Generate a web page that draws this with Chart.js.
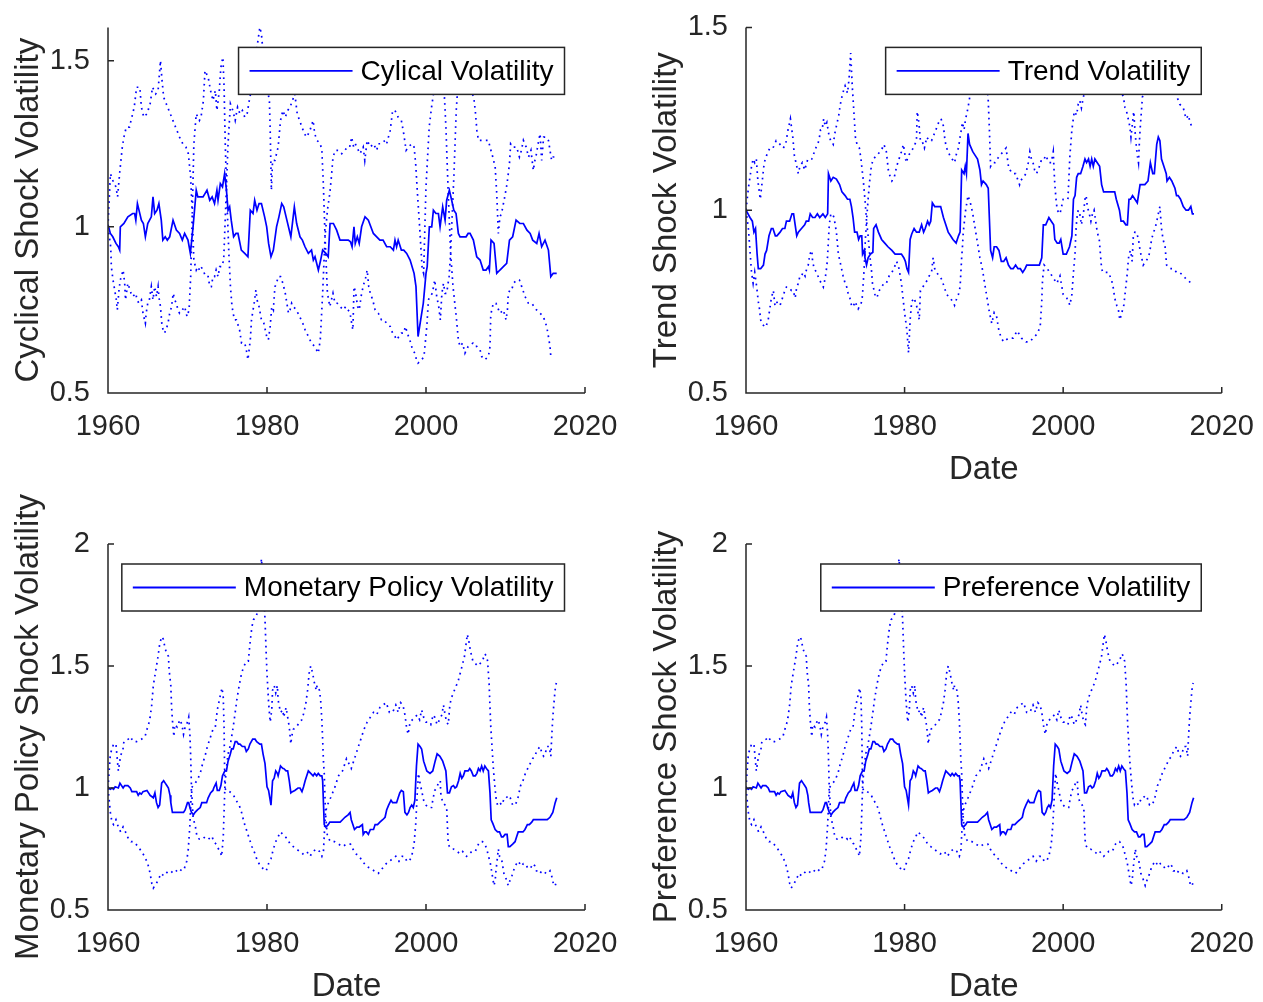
<!DOCTYPE html>
<html>
<head>
<meta charset="utf-8">
<script src="https://cdn.jsdelivr.net/npm/chart.js@4.4.1/dist/chart.umd.min.js"></script>
<style>
  body { margin: 0; background: #fff; }
  canvas { position: absolute; left: 0; top: 0; }
</style>
</head>
<body>
<canvas id="cyclical" width="1263" height="1002"></canvas>
<canvas id="trend" width="1263" height="1002"></canvas>
<canvas id="monetary" width="1263" height="1002"></canvas>
<canvas id="preference" width="1263" height="1002"></canvas>
<script>
// tick values shared by the panels
const xTicks = [1960, 1980, 2000, 2020];
const yTicksSmall = [0.5, 1, 1.5];
const yTicksLarge = [0.5, 1, 1.5, 2];

// ---- cyclical shock volatility: [year, value] ----
const cyclicalMid = [[1960.0,1.006],[1960.3,0.98],[1960.6,0.97],[1961.0,0.95],[1961.3,0.94],[1961.47,0.93],[1961.55,1.0],[1962.0,1.01],[1962.5,1.03],[1963.1,1.04],[1963.35,1.04],[1963.5,1.02],[1963.7,1.07],[1964.2,1.02],[1964.45,1.01],[1964.7,0.97],[1965.0,1.01],[1965.45,1.03],[1965.66,1.09],[1965.87,1.04],[1966.16,1.05],[1966.4,1.07],[1966.7,1.02],[1966.9,0.96],[1967.2,0.97],[1967.46,0.96],[1967.76,0.97],[1968.18,1.02],[1968.6,0.99],[1969.0,0.98],[1969.35,0.96],[1969.64,0.98],[1970.06,0.96],[1970.36,0.92],[1970.7,1.0],[1971.1,1.11],[1971.3,1.09],[1971.95,1.09],[1972.2,1.1],[1972.45,1.11],[1972.8,1.08],[1973.1,1.09],[1973.4,1.07],[1973.7,1.11],[1973.84,1.08],[1974.13,1.13],[1974.4,1.12],[1974.67,1.16],[1974.9,1.11],[1975.1,1.05],[1975.3,1.06],[1975.5,1.02],[1975.8,0.97],[1976.1,0.98],[1976.35,0.98],[1976.77,0.93],[1977.2,0.92],[1977.6,0.91],[1977.9,1.05],[1978.24,1.04],[1978.45,1.08],[1978.74,1.05],[1979.0,1.07],[1979.3,1.07],[1979.7,1.03],[1979.96,1.0],[1980.2,0.95],[1980.5,0.91],[1980.8,0.93],[1981.2,1.0],[1981.5,1.03],[1981.85,1.07],[1982.1,1.06],[1982.5,1.02],[1983.0,0.97],[1983.44,1.06],[1983.73,1.01],[1984.15,0.97],[1984.45,0.96],[1984.78,0.94],[1985.2,0.92],[1985.6,0.93],[1985.83,0.9],[1986.04,0.91],[1986.46,0.87],[1986.75,0.9],[1987.0,0.93],[1987.4,0.92],[1987.7,0.91],[1987.93,1.01],[1988.35,1.01],[1988.76,0.99],[1989.18,0.96],[1989.7,0.96],[1990.23,0.96],[1990.5,0.955],[1990.7,0.94],[1990.94,1.0],[1991.1,0.95],[1991.36,0.97],[1991.6,0.95],[1991.9,1.0],[1992.33,1.03],[1992.75,1.02],[1993.38,0.98],[1993.8,0.97],[1994.2,0.96],[1994.6,0.96],[1995.05,0.94],[1995.5,0.94],[1995.9,0.93],[1996.1,0.96],[1996.3,0.94],[1996.5,0.96],[1996.9,0.93],[1997.2,0.93],[1997.57,0.92],[1998.0,0.9],[1998.5,0.86],[1998.74,0.82],[1999.0,0.67],[1999.33,0.72],[1999.66,0.77],[2000.0,0.86],[2000.15,0.88],[2000.42,1.0],[2000.72,1.0],[2000.93,1.05],[2001.25,1.04],[2001.56,1.04],[2001.77,1.0],[2002.1,1.06],[2002.4,1.02],[2002.6,1.08],[2002.94,1.11],[2003.23,1.08],[2003.5,1.05],[2003.78,1.04],[2004.07,0.98],[2004.28,0.97],[2004.7,0.97],[2005.04,0.97],[2005.3,0.98],[2005.54,0.98],[2005.96,0.96],[2006.38,0.91],[2006.8,0.9],[2007.2,0.87],[2007.55,0.87],[2007.85,0.88],[2007.97,0.87],[2008.18,0.96],[2008.56,0.95],[2008.9,0.86],[2009.3,0.87],[2009.73,0.88],[2010.15,0.89],[2010.5,0.96],[2010.9,0.97],[2011.33,1.02],[2011.8,1.01],[2012.25,1.01],[2012.7,0.99],[2013.1,0.98],[2013.42,0.96],[2013.93,0.95],[2014.22,0.98],[2014.55,0.94],[2014.97,0.96],[2015.4,0.93],[2015.7,0.85],[2016.0,0.86],[2016.44,0.86]];
const cyclicalUpper = [[1960.0,1.0],[1960.3,1.16],[1960.6,1.14],[1961.0,1.12],[1961.2,1.09],[1961.5,1.17],[1961.8,1.24],[1962.0,1.27],[1962.3,1.3],[1962.7,1.3],[1963.0,1.33],[1963.3,1.36],[1963.6,1.42],[1964.0,1.42],[1964.2,1.36],[1964.5,1.33],[1964.9,1.34],[1965.3,1.37],[1965.6,1.42],[1966.0,1.4],[1966.3,1.41],[1966.6,1.5],[1966.8,1.44],[1967.0,1.39],[1967.5,1.36],[1968.0,1.33],[1968.5,1.3],[1969.0,1.27],[1969.4,1.25],[1969.8,1.24],[1970.1,1.22],[1970.4,1.15],[1970.6,1.04],[1970.8,1.25],[1971.0,1.31],[1971.1,1.34],[1971.5,1.32],[1971.7,1.33],[1972.0,1.38],[1972.2,1.47],[1972.6,1.45],[1972.9,1.41],[1973.2,1.38],[1973.5,1.41],[1973.7,1.35],[1974.0,1.41],[1974.2,1.48],[1974.45,1.51],[1974.6,1.42],[1974.75,1.25],[1974.9,1.12],[1975.1,1.25],[1975.4,1.37],[1975.7,1.35],[1976.0,1.32],[1976.3,1.36],[1976.6,1.34],[1976.9,1.35],[1977.2,1.33],[1977.5,1.34],[1977.7,1.37],[1978.3,1.45],[1978.8,1.55],[1979.1,1.6],[1979.3,1.58],[1979.6,1.5],[1980.0,1.42],[1980.3,1.38],[1980.4,1.29],[1980.55,1.11],[1980.7,1.2],[1981.0,1.2],[1981.4,1.24],[1981.7,1.32],[1982.0,1.35],[1982.3,1.33],[1982.6,1.35],[1982.9,1.36],[1983.2,1.38],[1983.5,1.4],[1983.8,1.34],[1984.1,1.32],[1984.4,1.3],[1984.7,1.28],[1985.0,1.27],[1985.4,1.29],[1985.8,1.32],[1986.0,1.28],[1986.3,1.26],[1986.7,1.25],[1986.9,1.23],[1987.1,1.12],[1987.3,0.97],[1987.6,1.05],[1987.9,1.1],[1988.1,1.15],[1988.3,1.21],[1988.6,1.23],[1989.0,1.23],[1989.4,1.22],[1989.8,1.23],[1990.1,1.24],[1990.4,1.24],[1990.65,1.27],[1990.9,1.24],[1991.1,1.25],[1991.5,1.23],[1991.7,1.22],[1992.1,1.24],[1992.3,1.2],[1992.6,1.26],[1993.0,1.24],[1993.4,1.25],[1993.8,1.23],[1994.0,1.25],[1994.4,1.25],[1994.85,1.26],[1995.05,1.25],[1995.5,1.29],[1995.8,1.35],[1996.1,1.35],[1996.5,1.33],[1996.9,1.32],[1997.2,1.28],[1997.5,1.23],[1997.8,1.24],[1998.2,1.25],[1998.5,1.24],[1998.7,1.19],[1998.9,1.11],[1999.2,1.0],[1999.5,0.88],[1999.7,0.86],[2000.0,1.12],[2000.4,1.3],[2000.7,1.36],[2001.0,1.41],[2001.4,1.45],[2002.0,1.46],[2002.2,1.45],[2002.5,1.3],[2002.8,1.1],[2003.1,0.92],[2003.5,1.15],[2003.8,1.35],[2004.0,1.42],[2004.5,1.45],[2005.0,1.44],[2005.5,1.42],[2006.0,1.39],[2006.2,1.35],[2006.4,1.29],[2006.6,1.26],[2007.0,1.26],[2007.4,1.26],[2007.85,1.26],[2008.05,1.24],[2008.4,1.21],[2008.7,1.18],[2008.9,1.1],[2009.1,0.98],[2009.3,1.03],[2009.5,1.04],[2009.9,1.09],[2010.2,1.13],[2010.5,1.19],[2010.65,1.25],[2011.0,1.24],[2011.4,1.24],[2011.75,1.21],[2012.0,1.23],[2012.25,1.26],[2012.6,1.24],[2012.9,1.21],[2013.2,1.23],[2013.5,1.17],[2013.7,1.2],[2013.9,1.22],[2014.1,1.25],[2014.35,1.28],[2014.55,1.2],[2014.8,1.27],[2015.1,1.27],[2015.4,1.26],[2015.6,1.23],[2015.8,1.2],[2016.0,1.21],[2016.4,1.21]];
const cyclicalLower = [[1960.0,1.0],[1960.34,0.94],[1960.42,0.88],[1960.63,0.84],[1960.84,0.81],[1961.05,0.78],[1961.17,0.75],[1961.38,0.81],[1961.55,0.84],[1961.9,0.87],[1962.1,0.83],[1962.2,0.78],[1962.5,0.83],[1962.9,0.8],[1963.1,0.79],[1963.5,0.8],[1963.65,0.78],[1963.9,0.77],[1964.2,0.78],[1964.4,0.74],[1964.7,0.71],[1964.8,0.74],[1965.0,0.77],[1965.2,0.78],[1965.45,0.82],[1965.66,0.78],[1965.87,0.82],[1966.1,0.79],[1966.3,0.82],[1966.4,0.79],[1966.6,0.76],[1966.7,0.73],[1966.8,0.7],[1967.1,0.68],[1967.3,0.69],[1967.55,0.71],[1967.76,0.74],[1968.0,0.76],[1968.2,0.8],[1968.4,0.78],[1968.6,0.77],[1968.8,0.75],[1969.0,0.74],[1969.35,0.75],[1969.64,0.76],[1969.94,0.73],[1970.2,0.75],[1970.4,0.85],[1970.6,1.04],[1970.8,0.9],[1971.1,0.87],[1971.3,0.88],[1971.5,0.87],[1971.7,0.88],[1971.95,0.87],[1972.3,0.85],[1972.6,0.85],[1972.8,0.82],[1973.0,0.82],[1973.2,0.85],[1973.4,0.85],[1973.6,0.87],[1973.84,0.85],[1974.05,0.88],[1974.3,0.88],[1974.55,0.9],[1974.9,1.12],[1975.2,0.92],[1975.4,0.82],[1975.6,0.76],[1975.9,0.72],[1976.15,0.72],[1976.55,0.69],[1976.8,0.65],[1977.2,0.65],[1977.4,0.63],[1977.6,0.6],[1977.75,0.63],[1977.9,0.66],[1978.05,0.72],[1978.25,0.75],[1978.45,0.78],[1978.6,0.81],[1978.75,0.78],[1979.0,0.76],[1979.3,0.72],[1979.6,0.71],[1979.96,0.67],[1980.17,0.66],[1980.4,0.7],[1980.6,0.76],[1980.8,0.75],[1981.0,0.82],[1981.2,0.83],[1981.4,0.85],[1981.7,0.85],[1982.0,0.83],[1982.3,0.8],[1982.5,0.77],[1982.7,0.74],[1982.9,0.75],[1983.1,0.77],[1983.3,0.76],[1983.7,0.75],[1984.1,0.73],[1984.5,0.71],[1984.8,0.69],[1985.2,0.67],[1985.6,0.65],[1986.0,0.64],[1986.45,0.62],[1986.7,0.66],[1987.0,0.8],[1987.3,0.97],[1987.6,0.8],[1987.9,0.76],[1988.3,0.8],[1988.55,0.77],[1988.85,0.77],[1989.2,0.76],[1989.6,0.75],[1989.9,0.76],[1990.2,0.75],[1990.45,0.74],[1990.65,0.71],[1990.8,0.69],[1990.95,0.82],[1991.15,0.8],[1991.4,0.76],[1991.6,0.75],[1991.9,0.8],[1992.2,0.83],[1992.45,0.85],[1992.6,0.87],[1992.8,0.82],[1993.0,0.8],[1993.3,0.78],[1993.6,0.75],[1994.0,0.74],[1994.4,0.72],[1994.7,0.72],[1995.05,0.71],[1995.5,0.7],[1995.8,0.68],[1996.1,0.67],[1996.3,0.66],[1996.6,0.67],[1996.9,0.68],[1997.2,0.68],[1997.4,0.7],[1997.8,0.67],[1998.1,0.65],[1998.3,0.63],[1998.6,0.62],[1998.8,0.6],[1999.0,0.59],[1999.45,0.6],[1999.75,0.61],[2000.1,0.7],[2000.3,0.78],[2000.5,0.79],[2000.8,0.8],[2001.1,0.84],[2001.35,0.79],[2001.6,0.76],[2001.8,0.72],[2002.0,0.8],[2002.2,0.83],[2002.4,0.8],[2002.6,0.8],[2002.9,0.85],[2003.1,0.92],[2003.4,0.82],[2003.8,0.73],[2004.07,0.66],[2004.28,0.64],[2004.6,0.65],[2004.9,0.62],[2005.3,0.64],[2005.9,0.65],[2006.17,0.64],[2006.38,0.64],[2006.8,0.63],[2007.0,0.61],[2007.4,0.6],[2007.85,0.61],[2008.05,0.64],[2008.14,0.73],[2008.26,0.75],[2008.47,0.77],[2008.8,0.77],[2009.3,0.74],[2009.73,0.75],[2010.07,0.72],[2010.24,0.75],[2010.36,0.8],[2010.57,0.81],[2010.78,0.81],[2011.0,0.83],[2011.4,0.84],[2011.75,0.84],[2012.04,0.82],[2012.46,0.79],[2012.88,0.77],[2013.3,0.77],[2013.9,0.75],[2014.35,0.74],[2014.76,0.73],[2015.18,0.7],[2015.4,0.67],[2015.6,0.64],[2015.7,0.61]];

// ---- trend shock volatility ----
const trendMid = [[1960.0,1.0],[1960.5,0.98],[1960.8,0.97],[1961.0,0.94],[1961.2,0.95],[1961.4,0.88],[1961.55,0.84],[1961.85,0.84],[1962.2,0.85],[1962.4,0.88],[1962.6,0.89],[1962.9,0.93],[1963.2,0.95],[1963.4,0.95],[1963.7,0.93],[1963.9,0.93],[1964.3,0.94],[1964.6,0.95],[1964.9,0.95],[1965.1,0.97],[1965.5,0.97],[1965.8,0.99],[1966.0,0.99],[1966.2,0.96],[1966.4,0.93],[1966.6,0.94],[1967.0,0.95],[1967.4,0.96],[1967.6,0.97],[1967.9,0.97],[1968.1,0.99],[1968.4,0.98],[1968.7,0.98],[1969.0,0.99],[1969.3,0.98],[1969.7,0.99],[1970.0,0.98],[1970.3,0.99],[1970.4,1.1],[1970.7,1.08],[1971.0,1.09],[1971.4,1.085],[1971.8,1.07],[1972.1,1.05],[1972.5,1.04],[1972.8,1.03],[1973.1,1.03],[1973.3,1.01],[1973.5,0.98],[1973.7,0.94],[1974.0,0.94],[1974.2,0.92],[1974.4,0.93],[1974.6,0.93],[1974.7,0.88],[1974.9,0.89],[1975.0,0.87],[1975.2,0.85],[1975.4,0.87],[1975.7,0.88],[1976.0,0.885],[1976.1,0.95],[1976.4,0.96],[1976.7,0.94],[1977.1,0.92],[1977.5,0.91],[1977.9,0.9],[1978.4,0.89],[1978.8,0.88],[1979.2,0.88],[1979.6,0.88],[1979.9,0.87],[1980.1,0.86],[1980.3,0.84],[1980.5,0.83],[1980.7,0.92],[1980.9,0.935],[1981.2,0.95],[1981.5,0.94],[1981.85,0.94],[1982.15,0.96],[1982.4,0.94],[1982.6,0.95],[1982.9,0.97],[1983.1,0.96],[1983.3,0.97],[1983.5,1.02],[1983.8,1.01],[1984.25,1.01],[1984.55,1.01],[1984.9,0.98],[1985.2,0.96],[1985.5,0.94],[1985.8,0.93],[1986.1,0.92],[1986.5,0.91],[1986.8,0.93],[1987.0,0.94],[1987.2,1.11],[1987.5,1.1],[1987.65,1.12],[1987.8,1.1],[1988.0,1.21],[1988.2,1.18],[1988.6,1.16],[1988.9,1.15],[1989.2,1.14],[1989.5,1.11],[1989.7,1.07],[1989.9,1.08],[1990.3,1.07],[1990.55,1.06],[1990.85,0.89],[1991.1,0.87],[1991.3,0.9],[1991.6,0.9],[1991.9,0.89],[1992.2,0.86],[1992.5,0.86],[1992.8,0.87],[1993.1,0.85],[1993.4,0.84],[1993.7,0.84],[1994.0,0.85],[1994.3,0.84],[1994.6,0.84],[1994.9,0.83],[1995.2,0.84],[1995.4,0.85],[1995.8,0.85],[1996.2,0.85],[1996.65,0.85],[1997.0,0.85],[1997.3,0.87],[1997.5,0.96],[1997.8,0.96],[1998.2,0.98],[1998.5,0.97],[1998.8,0.96],[1998.95,0.92],[1999.25,0.91],[1999.5,0.91],[1999.7,0.92],[2000.0,0.88],[2000.4,0.88],[2000.8,0.9],[2001.1,0.93],[2001.3,1.03],[2001.5,1.04],[2001.7,1.09],[2001.9,1.1],[2002.2,1.1],[2002.5,1.12],[2002.75,1.14],[2002.95,1.13],[2003.2,1.14],[2003.4,1.12],[2003.6,1.14],[2003.8,1.12],[2004.0,1.14],[2004.3,1.13],[2004.6,1.12],[2004.85,1.07],[2005.1,1.05],[2005.5,1.05],[2005.9,1.05],[2006.3,1.05],[2006.5,1.05],[2006.7,1.03],[2007.1,1.0],[2007.3,0.97],[2007.6,0.97],[2007.9,0.96],[2008.1,0.96],[2008.3,1.03],[2008.5,1.03],[2008.75,1.04],[2009.05,1.03],[2009.35,1.02],[2009.7,1.07],[2010.0,1.07],[2010.3,1.07],[2010.7,1.08],[2011.0,1.13],[2011.3,1.1],[2011.5,1.1],[2011.8,1.18],[2012.0,1.2],[2012.2,1.19],[2012.4,1.14],[2012.7,1.12],[2013.0,1.1],[2013.1,1.08],[2013.4,1.09],[2013.7,1.08],[2013.9,1.07],[2014.1,1.06],[2014.3,1.04],[2014.5,1.04],[2014.8,1.03],[2015.15,1.01],[2015.5,1.0],[2015.8,1.0],[2016.1,1.01],[2016.3,0.99],[2016.5,0.99]];
const trendUpper = [[1960.0,1.0],[1960.3,1.06],[1960.5,1.09],[1960.7,1.12],[1960.9,1.14],[1961.1,1.13],[1961.3,1.14],[1961.5,1.08],[1961.8,1.03],[1962.1,1.09],[1962.3,1.13],[1962.6,1.15],[1963.0,1.17],[1963.4,1.17],[1963.8,1.19],[1964.3,1.18],[1964.7,1.17],[1965.0,1.18],[1965.3,1.22],[1965.6,1.25],[1965.9,1.2],[1966.1,1.15],[1966.4,1.12],[1966.6,1.1],[1966.8,1.12],[1967.1,1.13],[1967.4,1.11],[1967.8,1.14],[1968.3,1.14],[1968.8,1.17],[1969.2,1.19],[1969.4,1.22],[1969.6,1.22],[1969.8,1.25],[1970.0,1.23],[1970.2,1.24],[1970.5,1.2],[1970.7,1.19],[1971.0,1.18],[1971.2,1.21],[1971.5,1.24],[1971.7,1.26],[1971.9,1.29],[1972.2,1.32],[1972.5,1.34],[1972.8,1.32],[1973.0,1.36],[1973.2,1.43],[1973.4,1.34],[1973.6,1.27],[1973.8,1.2],[1974.0,1.18],[1974.3,1.17],[1974.5,1.14],[1974.8,1.08],[1975.0,1.03],[1975.2,0.97],[1975.4,1.03],[1975.6,1.08],[1975.8,1.12],[1976.05,1.14],[1976.5,1.15],[1976.9,1.16],[1977.2,1.17],[1977.4,1.18],[1977.7,1.16],[1977.95,1.11],[1978.2,1.09],[1978.4,1.08],[1978.7,1.09],[1979.0,1.12],[1979.3,1.14],[1979.6,1.16],[1979.85,1.18],[1980.2,1.13],[1980.5,1.15],[1980.8,1.16],[1981.1,1.17],[1981.3,1.18],[1981.5,1.19],[1981.6,1.27],[1981.8,1.24],[1982.0,1.19],[1982.2,1.19],[1982.5,1.17],[1982.8,1.2],[1983.1,1.19],[1983.4,1.19],[1983.95,1.22],[1984.3,1.24],[1984.6,1.25],[1984.9,1.23],[1985.1,1.19],[1985.3,1.17],[1985.7,1.15],[1986.0,1.14],[1986.3,1.13],[1986.6,1.16],[1986.8,1.17],[1987.0,1.2],[1987.3,1.24],[1987.5,1.22],[1987.7,1.25],[1988.0,1.28],[1988.3,1.32],[1988.6,1.37],[1989.0,1.41],[1989.5,1.43],[1990.0,1.41],[1990.3,1.37],[1990.55,1.3],[1990.7,1.22],[1990.85,1.12],[1991.1,1.13],[1991.4,1.13],[1991.7,1.14],[1992.0,1.15],[1992.45,1.16],[1992.8,1.17],[1993.1,1.12],[1993.3,1.11],[1993.6,1.1],[1994.0,1.1],[1994.5,1.07],[1994.6,1.08],[1995.0,1.09],[1995.3,1.1],[1995.6,1.13],[1995.8,1.16],[1996.0,1.14],[1996.2,1.13],[1996.4,1.11],[1996.65,1.1],[1997.0,1.12],[1997.3,1.14],[1997.6,1.14],[1997.8,1.15],[1998.0,1.14],[1998.2,1.13],[1998.5,1.13],[1998.75,1.16],[1998.85,1.11],[1998.95,1.07],[1999.1,1.03],[1999.25,1.0],[1999.6,0.99],[2000.0,1.03],[2000.4,1.03],[2000.6,1.03],[2000.85,1.15],[2001.1,1.22],[2001.4,1.27],[2001.7,1.26],[2001.9,1.29],[2002.1,1.3],[2002.3,1.28],[2002.55,1.31],[2003.0,1.34],[2004.0,1.36],[2005.0,1.37],[2006.0,1.36],[2007.0,1.34],[2007.6,1.31],[2007.8,1.28],[2008.0,1.27],[2008.2,1.25],[2008.4,1.23],[2008.55,1.2],[2008.75,1.24],[2008.9,1.27],[2009.05,1.22],[2009.2,1.18],[2009.35,1.15],[2009.5,1.13],[2009.6,1.18],[2009.7,1.22],[2009.9,1.28],[2010.0,1.31],[2011.0,1.34],[2012.0,1.36],[2013.0,1.35],[2014.0,1.33],[2014.7,1.29],[2015.15,1.28],[2015.5,1.25],[2015.8,1.26],[2016.0,1.24],[2016.2,1.23],[2016.4,1.23]];
const trendLower = [[1960.0,1.0],[1960.3,0.95],[1960.4,0.92],[1960.5,0.89],[1960.6,0.86],[1960.7,0.83],[1960.9,0.8],[1961.1,0.83],[1961.35,0.79],[1961.55,0.75],[1961.7,0.73],[1961.85,0.7],[1962.0,0.69],[1962.2,0.685],[1962.5,0.68],[1962.8,0.7],[1963.0,0.73],[1963.2,0.76],[1963.45,0.78],[1963.65,0.74],[1963.85,0.75],[1964.1,0.74],[1964.3,0.74],[1964.6,0.76],[1964.9,0.78],[1965.1,0.79],[1965.3,0.79],[1965.75,0.78],[1965.95,0.78],[1966.2,0.76],[1966.4,0.79],[1966.6,0.8],[1966.8,0.82],[1967.0,0.82],[1967.2,0.83],[1967.45,0.82],[1967.65,0.84],[1967.85,0.85],[1968.05,0.88],[1968.3,0.89],[1968.4,0.86],[1968.6,0.84],[1968.9,0.83],[1969.25,0.81],[1969.5,0.8],[1969.75,0.79],[1969.95,0.81],[1970.1,0.83],[1970.25,0.86],[1970.4,0.92],[1970.5,0.96],[1970.7,0.99],[1970.9,0.99],[1971.1,0.98],[1971.25,0.96],[1971.4,0.94],[1971.65,0.88],[1971.85,0.86],[1972.05,0.84],[1972.25,0.82],[1972.5,0.8],[1972.7,0.79],[1972.9,0.77],[1973.1,0.76],[1973.3,0.74],[1973.5,0.735],[1973.75,0.75],[1973.95,0.74],[1974.15,0.73],[1974.4,0.74],[1974.6,0.75],[1974.7,0.77],[1974.9,0.84],[1975.05,0.92],[1975.2,0.97],[1975.4,0.93],[1975.6,0.88],[1975.85,0.83],[1975.95,0.8],[1976.25,0.77],[1976.5,0.76],[1976.8,0.78],[1977.1,0.79],[1977.4,0.8],[1977.7,0.8],[1978.05,0.82],[1978.4,0.83],[1978.65,0.84],[1979.0,0.86],[1979.3,0.84],[1979.6,0.8],[1980.0,0.72],[1980.3,0.67],[1980.5,0.61],[1980.7,0.7],[1980.9,0.75],[1981.2,0.76],[1981.5,0.74],[1981.7,0.72],[1981.85,0.7],[1982.0,0.78],[1982.3,0.79],[1982.6,0.8],[1982.9,0.81],[1983.1,0.82],[1983.4,0.83],[1983.6,0.87],[1983.8,0.84],[1984.0,0.83],[1984.4,0.82],[1984.7,0.81],[1985.0,0.79],[1985.3,0.77],[1985.7,0.76],[1986.1,0.75],[1986.3,0.74],[1986.6,0.76],[1986.8,0.77],[1987.0,0.79],[1987.1,0.83],[1987.2,0.87],[1987.3,0.9],[1987.4,0.94],[1987.7,1.0],[1988.0,1.04],[1988.3,1.02],[1988.6,0.99],[1988.9,0.95],[1989.2,0.91],[1989.5,0.87],[1989.8,0.84],[1990.1,0.8],[1990.4,0.76],[1990.7,0.72],[1991.0,0.69],[1991.3,0.72],[1991.6,0.71],[1991.9,0.67],[1992.2,0.65],[1992.5,0.64],[1993.1,0.65],[1993.7,0.65],[1994.2,0.67],[1994.75,0.65],[1995.3,0.64],[1995.8,0.64],[1996.2,0.65],[1996.65,0.66],[1997.1,0.68],[1997.3,0.75],[1997.4,0.81],[1997.6,0.85],[1998.0,0.84],[1998.3,0.83],[1998.6,0.82],[1998.9,0.81],[1999.2,0.8],[1999.6,0.82],[2000.0,0.77],[2000.45,0.76],[2000.85,0.74],[2001.1,0.77],[2001.3,0.83],[2001.5,0.88],[2001.6,0.94],[2001.7,0.97],[2001.8,0.99],[2001.9,1.0],[2002.1,0.99],[2002.3,0.96],[2002.55,0.99],[2002.75,1.03],[2002.9,1.04],[2003.05,1.01],[2003.3,0.99],[2003.5,0.97],[2003.7,0.99],[2003.9,1.0],[2004.1,0.97],[2004.3,0.94],[2004.55,0.92],[2004.7,0.88],[2004.85,0.84],[2005.0,0.83],[2005.3,0.83],[2005.7,0.83],[2006.1,0.81],[2006.3,0.79],[2006.5,0.76],[2006.75,0.74],[2006.95,0.73],[2007.15,0.7],[2007.4,0.72],[2007.65,0.74],[2007.9,0.79],[2008.1,0.83],[2008.2,0.86],[2008.3,0.88],[2008.5,0.89],[2008.7,0.86],[2008.85,0.93],[2009.05,0.94],[2009.25,0.94],[2009.5,0.92],[2009.7,0.89],[2010.1,0.85],[2010.4,0.86],[2010.75,0.87],[2010.95,0.89],[2011.15,0.92],[2011.4,0.94],[2011.6,0.95],[2011.8,0.97],[2012.0,0.99],[2012.2,1.01],[2012.4,0.95],[2012.6,0.92],[2012.85,0.9],[2013.05,0.85],[2013.5,0.84],[2013.9,0.84],[2014.3,0.83],[2014.7,0.83],[2015.15,0.82],[2015.6,0.81],[2016.2,0.8],[2016.4,0.8]];

// ---- monetary policy shock volatility (the preference panel shows the same series) ----
const monetaryMid = [[1960.0,1.0],[1960.3,0.995],[1960.5,1.0],[1960.7,0.995],[1960.9,1.005],[1961.3,1.0],[1961.5,1.02],[1961.9,1.0],[1962.1,1.01],[1962.5,1.01],[1962.8,1.0],[1963.0,0.985],[1963.6,0.985],[1963.8,0.97],[1964.0,0.98],[1964.2,0.975],[1964.4,0.985],[1964.9,0.99],[1965.1,0.98],[1965.3,0.97],[1965.5,0.965],[1965.7,0.96],[1965.9,0.98],[1966.1,0.94],[1966.3,0.92],[1966.5,0.93],[1966.75,1.02],[1967.0,1.03],[1967.2,1.02],[1967.4,1.01],[1967.6,1.0],[1967.8,0.97],[1967.9,0.94],[1968.1,0.9],[1968.4,0.9],[1968.7,0.9],[1969.05,0.9],[1969.3,0.9],[1969.5,0.9],[1969.7,0.91],[1970.0,0.94],[1970.15,0.94],[1970.3,0.92],[1970.5,0.9],[1970.75,0.89],[1970.95,0.9],[1971.25,0.91],[1971.6,0.92],[1971.8,0.94],[1972.1,0.94],[1972.4,0.94],[1972.6,0.96],[1972.9,0.98],[1973.2,0.99],[1973.3,1.0],[1973.6,1.02],[1973.75,0.99],[1974.0,0.99],[1974.2,1.01],[1974.4,1.05],[1974.7,1.07],[1974.9,1.07],[1975.1,1.11],[1975.35,1.135],[1975.55,1.16],[1975.75,1.16],[1976.0,1.19],[1976.2,1.19],[1976.4,1.18],[1976.6,1.18],[1976.9,1.17],[1977.2,1.17],[1977.4,1.15],[1977.65,1.16],[1977.85,1.18],[1978.2,1.2],[1978.5,1.2],[1978.7,1.19],[1979.1,1.18],[1979.3,1.18],[1979.5,1.14],[1979.75,1.1],[1980.0,1.005],[1980.2,0.99],[1980.4,0.95],[1980.5,0.93],[1980.7,1.03],[1980.9,1.04],[1981.1,1.07],[1981.3,1.06],[1981.4,1.05],[1981.55,1.07],[1981.7,1.09],[1982.0,1.08],[1982.1,1.08],[1982.4,1.07],[1982.6,1.07],[1982.8,1.03],[1983.0,0.98],[1983.2,0.985],[1983.5,0.99],[1983.9,1.0],[1984.15,1.0],[1984.4,0.985],[1984.6,1.005],[1984.8,1.03],[1985.0,1.05],[1985.2,1.07],[1985.5,1.06],[1985.8,1.05],[1986.0,1.06],[1986.25,1.05],[1986.45,1.06],[1986.7,1.05],[1986.9,1.05],[1987.0,1.03],[1987.2,0.85],[1987.4,0.84],[1987.7,0.85],[1987.9,0.86],[1988.3,0.86],[1988.55,0.86],[1988.85,0.86],[1989.2,0.86],[1989.5,0.87],[1989.8,0.88],[1990.2,0.89],[1990.45,0.9],[1990.6,0.87],[1990.8,0.85],[1991.0,0.83],[1991.3,0.84],[1991.6,0.84],[1992.0,0.85],[1992.1,0.81],[1992.3,0.82],[1992.5,0.82],[1992.75,0.81],[1993.0,0.83],[1993.4,0.83],[1993.6,0.85],[1993.9,0.85],[1994.2,0.86],[1994.55,0.87],[1994.85,0.88],[1995.05,0.91],[1995.3,0.93],[1995.6,0.95],[1995.8,0.94],[1996.1,0.94],[1996.3,0.94],[1996.5,0.96],[1996.7,0.98],[1996.9,0.99],[1997.15,0.985],[1997.35,0.9],[1997.6,0.89],[1997.8,0.9],[1998.0,0.92],[1998.2,0.93],[1998.4,0.92],[1998.6,0.95],[1998.8,1.09],[1999.0,1.18],[1999.25,1.17],[1999.45,1.16],[1999.7,1.11],[1999.9,1.09],[2000.1,1.07],[2000.5,1.06],[2000.85,1.07],[2001.15,1.11],[2001.4,1.14],[2001.75,1.13],[2002.1,1.11],[2002.3,1.09],[2002.5,1.07],[2002.7,0.98],[2002.95,0.98],[2003.2,1.005],[2003.45,1.01],[2003.65,1.0],[2003.85,1.005],[2004.1,1.03],[2004.3,1.06],[2004.5,1.04],[2004.7,1.05],[2004.9,1.07],[2005.1,1.07],[2005.3,1.07],[2005.5,1.08],[2005.7,1.07],[2005.95,1.05],[2006.2,1.05],[2006.4,1.06],[2006.6,1.08],[2006.8,1.07],[2007.0,1.09],[2007.2,1.07],[2007.4,1.09],[2007.6,1.08],[2007.85,1.07],[2008.05,0.98],[2008.2,0.87],[2008.4,0.855],[2008.7,0.83],[2009.0,0.82],[2009.25,0.82],[2009.5,0.8],[2009.7,0.8],[2009.95,0.81],[2010.2,0.81],[2010.35,0.76],[2010.55,0.76],[2010.9,0.77],[2011.2,0.78],[2011.4,0.8],[2011.6,0.82],[2011.8,0.82],[2012.2,0.82],[2012.45,0.83],[2012.75,0.85],[2013.0,0.85],[2013.3,0.86],[2013.5,0.87],[2014.0,0.87],[2014.35,0.87],[2014.7,0.87],[2015.0,0.87],[2015.25,0.87],[2015.6,0.88],[2015.95,0.9],[2016.25,0.94],[2016.45,0.96]];
const monetaryUpper = [[1960.0,1.0],[1960.3,1.14],[1960.7,1.18],[1961.0,1.18],[1961.3,1.07],[1961.6,1.135],[1961.85,1.15],[1962.0,1.19],[1962.55,1.2],[1962.8,1.21],[1963.2,1.19],[1963.6,1.19],[1964.2,1.2],[1964.65,1.21],[1964.9,1.24],[1965.1,1.26],[1965.3,1.29],[1965.5,1.34],[1965.7,1.42],[1965.9,1.46],[1966.1,1.5],[1966.3,1.54],[1966.5,1.59],[1966.75,1.62],[1966.95,1.61],[1967.2,1.57],[1967.4,1.55],[1967.6,1.54],[1967.7,1.48],[1967.9,1.42],[1968.0,1.33],[1968.1,1.28],[1968.2,1.24],[1968.3,1.21],[1968.4,1.26],[1968.7,1.25],[1969.05,1.28],[1969.3,1.26],[1969.5,1.22],[1969.7,1.25],[1970.0,1.27],[1970.15,1.29],[1970.3,1.22],[1970.4,1.13],[1970.5,1.0],[1970.7,1.01],[1971.2,1.03],[1971.6,1.06],[1971.9,1.1],[1972.2,1.13],[1972.5,1.17],[1972.8,1.2],[1973.2,1.24],[1973.5,1.25],[1973.75,1.32],[1974.0,1.36],[1974.2,1.39],[1974.35,1.41],[1974.5,1.37],[1974.6,1.25],[1974.7,1.0],[1974.85,1.07],[1975.1,1.14],[1975.35,1.17],[1975.55,1.21],[1975.75,1.25],[1976.0,1.31],[1976.2,1.36],[1976.5,1.42],[1976.8,1.47],[1977.1,1.5],[1977.45,1.52],[1977.65,1.52],[1977.85,1.59],[1978.1,1.66],[1978.3,1.69],[1978.6,1.7],[1978.9,1.73],[1979.1,1.85],[1979.3,1.94],[1979.5,1.85],[1979.75,1.69],[1979.9,1.55],[1980.0,1.47],[1980.2,1.35],[1980.3,1.31],[1980.4,1.27],[1980.6,1.32],[1980.7,1.4],[1980.9,1.42],[1981.1,1.39],[1981.3,1.42],[1981.4,1.36],[1981.7,1.31],[1982.0,1.32],[1982.1,1.29],[1982.4,1.33],[1982.55,1.3],[1982.8,1.25],[1983.0,1.18],[1983.1,1.21],[1983.3,1.24],[1983.7,1.25],[1984.1,1.27],[1984.4,1.28],[1984.65,1.31],[1984.9,1.35],[1985.1,1.4],[1985.3,1.47],[1985.5,1.5],[1985.75,1.47],[1985.9,1.44],[1986.2,1.4],[1986.3,1.42],[1986.6,1.4],[1986.75,1.36],[1986.9,1.28],[1987.0,1.2],[1987.1,1.11],[1987.2,1.06],[1987.35,0.9],[1987.6,0.93],[1988.0,0.96],[1988.5,1.0],[1989.0,1.05],[1989.5,1.07],[1990.0,1.12],[1990.3,1.1],[1990.6,1.08],[1991.0,1.12],[1991.4,1.16],[1991.8,1.2],[1992.2,1.24],[1992.6,1.27],[1993.0,1.29],[1993.4,1.31],[1993.8,1.3],[1994.2,1.33],[1994.6,1.34],[1995.0,1.35],[1995.4,1.31],[1995.8,1.31],[1996.2,1.34],[1996.5,1.31],[1996.8,1.35],[1997.1,1.34],[1997.35,1.3],[1997.55,1.25],[1997.75,1.22],[1998.0,1.27],[1998.3,1.28],[1998.6,1.29],[1998.9,1.3],[1999.2,1.28],[1999.45,1.32],[1999.7,1.29],[2000.0,1.27],[2000.3,1.27],[2000.6,1.26],[2000.9,1.3],[2001.1,1.29],[2001.4,1.26],[2001.7,1.28],[2002.0,1.3],[2002.2,1.34],[2002.4,1.3],[2002.6,1.27],[2002.8,1.26],[2003.0,1.34],[2003.2,1.37],[2003.45,1.39],[2003.8,1.42],[2004.0,1.43],[2004.2,1.46],[2004.4,1.48],[2004.6,1.51],[2004.8,1.53],[2005.0,1.58],[2005.2,1.63],[2005.4,1.6],[2005.6,1.56],[2005.9,1.52],[2006.2,1.51],[2006.5,1.5],[2006.8,1.51],[2007.1,1.52],[2007.4,1.55],[2007.6,1.54],[2007.75,1.52],[2007.85,1.47],[2007.95,1.42],[2008.05,1.33],[2008.15,1.25],[2008.3,1.17],[2008.45,1.09],[2008.6,1.03],[2008.8,0.96],[2009.0,0.93],[2009.3,0.94],[2009.5,0.93],[2009.9,0.96],[2010.1,0.96],[2010.4,0.97],[2010.6,0.96],[2010.9,0.93],[2011.2,0.93],[2011.5,0.95],[2011.7,0.98],[2011.9,1.01],[2012.2,1.03],[2012.5,1.06],[2012.8,1.08],[2013.1,1.1],[2013.4,1.12],[2013.7,1.13],[2013.9,1.15],[2014.1,1.16],[2014.35,1.17],[2014.6,1.14],[2014.8,1.13],[2015.0,1.14],[2015.2,1.17],[2015.5,1.17],[2015.7,1.13],[2015.8,1.2],[2015.9,1.26],[2016.0,1.31],[2016.15,1.37],[2016.3,1.42],[2016.4,1.43]];
const monetaryLower = [[1960.0,1.0],[1960.3,0.9],[1960.5,0.86],[1960.7,0.85],[1961.0,0.87],[1961.3,0.84],[1961.6,0.82],[1961.9,0.84],[1962.2,0.82],[1962.6,0.79],[1962.9,0.78],[1963.2,0.78],[1963.5,0.77],[1963.8,0.76],[1964.2,0.74],[1964.6,0.72],[1965.0,0.69],[1965.3,0.65],[1965.5,0.61],[1965.7,0.59],[1965.9,0.6],[1966.1,0.61],[1966.4,0.63],[1966.7,0.65],[1967.0,0.64],[1967.3,0.65],[1967.6,0.66],[1967.9,0.66],[1968.2,0.65],[1968.6,0.66],[1968.9,0.67],[1969.3,0.66],[1969.6,0.67],[1969.9,0.7],[1970.1,0.75],[1970.3,0.85],[1970.5,1.0],[1970.7,0.88],[1971.0,0.84],[1971.2,0.8],[1971.5,0.79],[1971.9,0.79],[1972.2,0.8],[1972.5,0.8],[1972.8,0.79],[1973.1,0.8],[1973.3,0.78],[1973.6,0.77],[1973.9,0.75],[1974.1,0.74],[1974.3,0.72],[1974.5,0.8],[1974.7,1.0],[1974.85,0.99],[1975.1,0.99],[1975.5,0.98],[1975.8,0.97],[1976.1,0.95],[1976.5,0.93],[1976.8,0.9],[1977.1,0.86],[1977.5,0.82],[1977.8,0.79],[1978.1,0.76],[1978.5,0.73],[1978.8,0.7],[1979.2,0.68],[1979.5,0.67],[1979.9,0.66],[1980.2,0.69],[1980.5,0.71],[1980.8,0.75],[1981.1,0.78],[1981.4,0.8],[1981.7,0.82],[1982.0,0.81],[1982.3,0.8],[1982.6,0.79],[1982.9,0.77],[1983.3,0.76],[1983.7,0.75],[1984.1,0.74],[1984.5,0.73],[1985.0,0.74],[1985.4,0.72],[1985.8,0.74],[1986.2,0.75],[1986.6,0.74],[1986.9,0.72],[1987.1,0.74],[1987.35,0.9],[1987.6,0.8],[1988.0,0.78],[1988.5,0.78],[1989.0,0.77],[1989.5,0.76],[1990.0,0.77],[1990.5,0.77],[1990.8,0.75],[1991.2,0.73],[1991.6,0.72],[1992.0,0.7],[1992.5,0.68],[1993.0,0.67],[1993.5,0.66],[1994.0,0.65],[1994.5,0.67],[1995.0,0.69],[1995.4,0.7],[1995.8,0.71],[1996.2,0.72],[1996.6,0.7],[1997.0,0.72],[1997.3,0.72],[1997.6,0.7],[1997.9,0.7],[1998.2,0.72],[1998.5,0.77],[1998.7,0.85],[1998.9,0.98],[1999.05,1.06],[1999.25,1.02],[1999.45,0.99],[1999.7,0.95],[2000.0,0.93],[2000.3,0.92],[2000.7,0.92],[2000.85,0.95],[2001.1,0.99],[2001.35,1.0],[2001.55,1.02],[2001.8,1.03],[2001.85,0.98],[2002.1,0.94],[2002.4,0.93],[2002.6,0.92],[2002.7,0.84],[2002.8,0.77],[2002.95,0.76],[2003.2,0.75],[2003.45,0.75],[2003.9,0.74],[2004.3,0.73],[2004.6,0.74],[2005.1,0.72],[2005.45,0.73],[2005.75,0.74],[2006.2,0.74],[2006.6,0.77],[2006.8,0.78],[2007.1,0.78],[2007.4,0.77],[2007.65,0.75],[2007.85,0.72],[2008.05,0.7],[2008.2,0.67],[2008.4,0.63],[2008.55,0.6],[2008.7,0.62],[2008.8,0.66],[2009.0,0.72],[2009.1,0.75],[2009.25,0.72],[2009.5,0.71],[2009.65,0.68],[2009.8,0.65],[2010.05,0.63],[2010.25,0.61],[2010.35,0.6],[2010.55,0.62],[2010.8,0.64],[2011.0,0.66],[2011.2,0.68],[2011.4,0.69],[2011.6,0.7],[2011.8,0.69],[2012.0,0.68],[2012.25,0.69],[2012.45,0.69],[2012.65,0.68],[2012.85,0.67],[2013.1,0.67],[2013.3,0.68],[2013.5,0.69],[2013.7,0.68],[2013.9,0.66],[2014.1,0.66],[2014.35,0.65],[2014.55,0.66],[2014.75,0.66],[2015.1,0.65],[2015.4,0.65],[2015.6,0.66],[2015.8,0.64],[2015.95,0.62],[2016.05,0.6],[2016.25,0.6],[2016.35,0.61]];

const FONT = "'Liberation Sans', Arial, Helvetica, sans-serif";
const AXIS_COLOR = '#262626';
const BLUE = '#0000ff';
const PAGE_W = 1263, PAGE_H = 1002;

const toXY = pairs => pairs.map(([x, y]) => ({ x, y }));

// axis lines with inward ticks, plus a boxed legend in the top right corner
const matlabAxes = {
  id: 'matlabAxes',
  afterDraw(chart) {
    const { ctx, chartArea: a, scales: { x, y } } = chart;
    const tickLen = 6;
    ctx.save();
    ctx.strokeStyle = AXIS_COLOR;
    ctx.lineWidth = 1.5;
    ctx.beginPath();
    ctx.moveTo(a.left, a.top);
    ctx.lineTo(a.left, a.bottom);
    ctx.lineTo(a.right, a.bottom);
    x.ticks.forEach(t => {
      const px = x.getPixelForValue(t.value);
      ctx.moveTo(px, a.bottom);
      ctx.lineTo(px, a.bottom - tickLen);
    });
    y.ticks.forEach(t => {
      const py = y.getPixelForValue(t.value);
      ctx.moveTo(a.left, py);
      ctx.lineTo(a.left + tickLen, py);
    });
    ctx.stroke();

    const label = chart.data.datasets[0].label;
    ctx.font = '28px ' + FONT;
    const tw = ctx.measureText(label).width;
    const h = 47, w = 11 + 103 + 8 + tw + 11;
    const right = a.right - 20.5, top = a.top + 20, left = right - w;
    ctx.fillStyle = '#fff';
    ctx.fillRect(left, top, w, h);
    ctx.strokeStyle = AXIS_COLOR;
    ctx.lineWidth = 1.5;
    ctx.strokeRect(left, top, w, h);
    ctx.strokeStyle = BLUE;
    ctx.lineWidth = 1.8;
    ctx.beginPath();
    ctx.moveTo(left + 11, top + h / 2);
    ctx.lineTo(left + 114, top + h / 2);
    ctx.stroke();
    ctx.fillStyle = '#000';
    ctx.textBaseline = 'middle';
    ctx.textAlign = 'left';
    ctx.fillText(label, left + 122, top + h / 2 + 1);
    ctx.restore();
  }
};

function drawPanel(id, box, yMax, yTicks, yTitle, xTitle, legend, mid, upper, lower) {
  const dotted = { borderColor: BLUE, borderWidth: 1.7, borderDash: [1.7, 4.3], pointRadius: 0, fill: false };
  new Chart(document.getElementById(id), {
    type: 'line',
    data: {
      datasets: [
        { label: legend, data: toXY(mid), borderColor: BLUE, borderWidth: 1.7, pointRadius: 0, fill: false },
        { ...dotted, data: toXY(upper) },
        { ...dotted, data: toXY(lower) }
      ]
    },
    options: {
      responsive: false,
      animation: false,
      events: [],
      layout: {
        padding: { left: box.left - 108, top: box.top, right: PAGE_W - box.right, bottom: PAGE_H - box.bottom - 92 }
      },
      scales: {
        x: {
          type: 'linear', min: 1960, max: 2020,
          afterFit(s) { s.height = 92; },
          afterBuildTicks(s) { s.ticks = xTicks.map(v => ({ value: v })); },
          grid: { display: false },
          border: { display: false },
          ticks: { padding: 9, maxRotation: 0, autoSkip: false, color: AXIS_COLOR, font: { family: FONT, size: 29 }, callback: v => String(v) },
          title: { display: !!xTitle, text: xTitle, color: AXIS_COLOR, font: { family: FONT, size: 33, lineHeight: 0.9 }, padding: { top: 0, bottom: 0 } }
        },
        y: {
          type: 'linear', min: 0.5, max: yMax,
          afterFit(s) { s.width = 108; },
          afterBuildTicks(s) { s.ticks = yTicks.map(v => ({ value: v })); },
          grid: { display: false },
          border: { display: false },
          ticks: { padding: 10, color: AXIS_COLOR, font: { family: FONT, size: 29 }, callback: v => String(v) },
          title: { display: true, text: yTitle, color: AXIS_COLOR, font: { family: FONT, size: 33, lineHeight: 0.9 }, padding: { top: 14, bottom: 0 } }
        }
      },
      plugins: { legend: { display: false }, tooltip: { enabled: false } }
    },
    plugins: [matlabAxes]
  });
}

drawPanel('cyclical', { left: 108, right: 585, top: 25, bottom: 393 }, 1.6, yTicksSmall,
  'Cyclical Shock Volatility', '', 'Cylical Volatility', cyclicalMid, cyclicalUpper, cyclicalLower);
drawPanel('trend', { left: 746, right: 1222, top: 26, bottom: 393 }, 1.5, yTicksSmall,
  'Trend Shock Volatility', 'Date', 'Trend Volatility', trendMid, trendUpper, trendLower);
drawPanel('monetary', { left: 108, right: 585, top: 544, bottom: 910 }, 2, yTicksLarge,
  'Monetary Policy Shock Volatility', 'Date', 'Monetary Policy Volatility', monetaryMid, monetaryUpper, monetaryLower);
drawPanel('preference', { left: 746, right: 1222, top: 544, bottom: 910 }, 2, yTicksLarge,
  'Preference Shock Volatility', 'Date', 'Preference Volatility', monetaryMid, monetaryUpper, monetaryLower);
</script>
</body>
</html>
